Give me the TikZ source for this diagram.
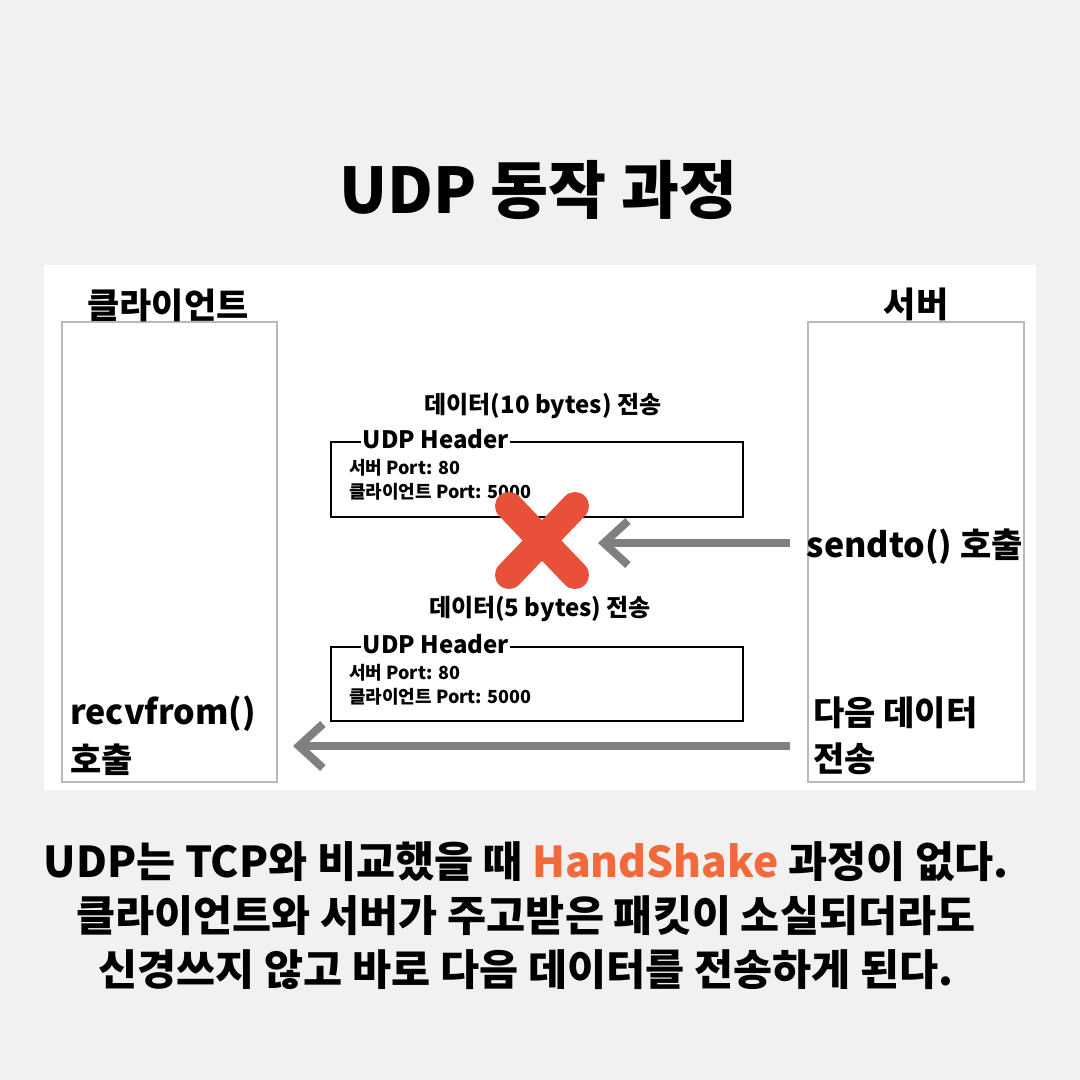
\documentclass[tikz,border=0pt]{standalone}
\usepackage{fontspec}
\setmainfont{Noto Sans CJK KR}
\usepackage{xcolor}
\usetikzlibrary{arrows.meta,positioning}

\definecolor{paper}{HTML}{F1F1F1}
\definecolor{flowgray}{HTML}{808080}
\definecolor{crossred}{HTML}{E8503A}
\definecolor{hsorange}{HTML}{F26A3B}

\begin{document}
\begin{tikzpicture}[
  x=1pt,
  y=-1pt,
  font=\bfseries,
  panel/.style={draw=gray!55, line width=1.2pt},
  hdrbox/.style={draw=black, line width=2pt},
  hdrlabel/.style={anchor=base west, fill=white, inner sep=1.5pt, font=\fontsize{24}{28}\selectfont\bfseries},
  field/.style={anchor=base west, inner sep=0pt, font=\fontsize{18}{21}\selectfont\bfseries},
  caption/.style={anchor=base, inner sep=0pt, font=\fontsize{24}{28}\selectfont\bfseries},
  side/.style={anchor=base west, inner sep=0pt, font=\fontsize{34}{40}\selectfont\bfseries},
  flow/.style={draw=flowgray, line width=8pt, -{Straight Barb[length=24pt,width=44pt]}},
  cross/.style={draw=crossred, line width=28pt, line cap=round}
]
  \useasboundingbox (0,0) rectangle (1080,1080);
  \fill[paper] (0,0) rectangle (1080,1080);
  \fill[white] (44,265) rectangle (1036,790);

  % title
  \node[anchor=base, inner sep=0pt, font=\fontsize{63}{72}\selectfont\bfseries] (title) at (538,213) {UDP 동작 과정};

  % hosts
  \draw[panel] (62,322) rectangle (277,782);
  \draw[panel] (808,322) rectangle (1024,782);
  \node[anchor=base, inner sep=0pt, font=\fontsize{35}{40}\selectfont\bfseries] (client) at (168,318) {클라이언트};
  \node[anchor=base, inner sep=0pt, font=\fontsize{35}{40}\selectfont\bfseries] (server) at (916,317) {서버};

  % first datagram (lost)
  \node[caption] (capA) at (543,413) {데이터(10 bytes) 전송};
  \draw[hdrbox] (331,442) rectangle (743,517);
  \node[hdrlabel] (hdrA) at (361,448) {UDP Header};
  \node[field] (portA1) at (349,474) {서버 Port: 80};
  \node[field] (portA2) at (349,498) {클라이언트 Port: 5000};

  \draw[cross] (509,506) -- (575,575);
  \draw[cross] (575,506) -- (509,575);

  \node[side, anchor=base east] (sendto) at (1023,557) {sendto() 호출};
  \coordinate (sendStart) at (790,543);
  \coordinate (lostEnd) at (598,543);
  \draw[flow] (sendStart) -- (lostEnd);

  % second datagram
  \node[caption] (capB) at (540,616) {데이터(5 bytes) 전송};
  \draw[hdrbox] (331,647) rectangle (743,721);
  \node[hdrlabel] (hdrB) at (361,653) {UDP Header};
  \node[field] (portB1) at (349,679) {서버 Port: 80};
  \node[field] (portB2) at (349,703) {클라이언트 Port: 5000};

  \node[side] (recv1) at (70,724) {recvfrom()};
  \node[side] (recv2) at (70,772) {호출};
  \node[side] (next1) at (813,725) {다음 데이터};
  \node[side] (next2) at (813,771) {전송};
  \coordinate (nextStart) at (790,746);
  \coordinate (recvEnd) at (293,746);
  \draw[flow] (nextStart) -- (recvEnd);

  % summary
  \begin{scope}[every node/.style={anchor=base, inner sep=0pt, font=\fontsize{42.5}{50}\selectfont\bfseries}]
    \node (sum1) at (526,877) {UDP는 TCP와 비교했을 때 \textcolor{hsorange}{HandShake} 과정이 없다.};
    \node (sum2) at (526,931) {클라이언트와 서버가 주고받은 패킷이 소실되더라도};
    \node (sum3) at (526,985) {신경쓰지 않고 바로 다음 데이터를 전송하게 된다.};
  \end{scope}
\end{tikzpicture}
\end{document}
